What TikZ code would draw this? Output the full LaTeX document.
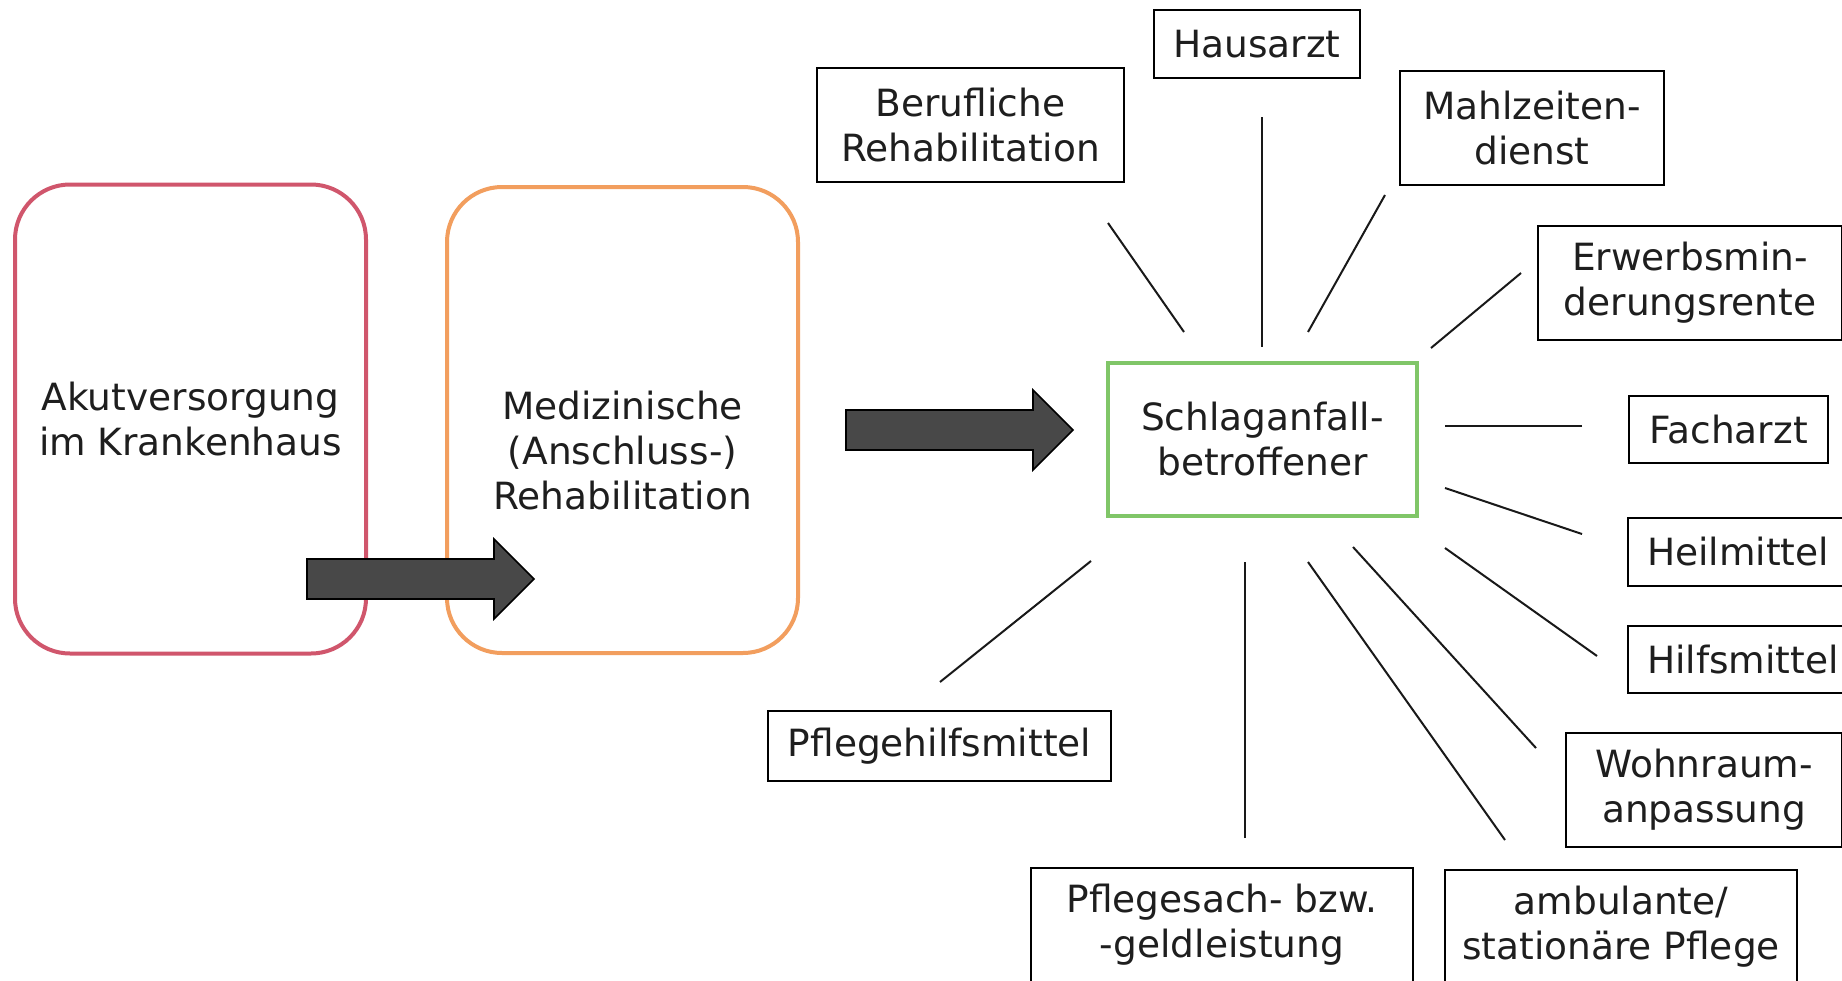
\documentclass[tikz,border=0pt]{standalone}
\usepackage{fontspec}
\setmainfont{DejaVu Sans}
\definecolor{redline}{RGB}{208,86,108}
\definecolor{orangeline}{RGB}{242,158,94}
\definecolor{greenline}{RGB}{128,198,104}
\definecolor{arrgray}{RGB}{72,72,72}
\definecolor{txt}{RGB}{30,30,30}
\tikzset{
  lbl/.style={font=\fontsize{37.5}{45}\selectfont, text=txt, align=center},
  roundbox/.style={draw, line width=4pt, rounded corners=55pt, inner sep=0pt},
  plainbox/.style={lbl, draw=black, line width=2.4pt, inner sep=0pt},
  greenbox/.style={lbl, draw=greenline, line width=4pt, inner sep=0pt},
  spoke/.style={line width=2pt, draw=black!90},
  blockarrow/.pic={\draw[fill=arrgray, draw=black, line width=1.6pt, line join=miter]
     (0,-20) -- (187,-20) -- (187,-40) -- (227,0) -- (187,40) -- (187,20) -- (0,20) -- cycle;}
}
\begin{document}
\begin{tikzpicture}[x=1pt,y=-1pt]
\useasboundingbox (0,0) rectangle (1842,980);
\clip (0,0) rectangle (1842,980);
\fill[white] (0,0) rectangle (1842,980);

% left flow
\node[roundbox, lbl, draw=redline, minimum width=351pt, minimum height=469pt] (akut) at (190.5,419) {Akutversorgung\\im Krankenhaus};
\node[roundbox, draw=orangeline, minimum width=351pt, minimum height=466pt] (reha) at (622.5,420) {};
\node[lbl] (rehatext) at (622.5,451) {Medizinische\\(Anschluss-)\\Rehabilitation};
\pic (arrA) at (307,579) {blockarrow};
\pic (arrB) at (846,430) {blockarrow};

% centre
\node[greenbox, minimum width=309pt, minimum height=153pt] (schlag) at (1262.5,439.5) {Schlaganfall-\\betroffener};

% satellite boxes
\node[plainbox, minimum width=206pt, minimum height=68pt] (haus) at (1257,44) {Hausarzt};
\node[plainbox, minimum width=307pt, minimum height=114pt] (beruf) at (970.5,125) {Berufliche\\Rehabilitation};
\node[plainbox, minimum width=264pt, minimum height=114pt] (mahl) at (1532,128) {Mahlzeiten-\\dienst};
\node[plainbox, minimum width=304pt, minimum height=114pt] (erwerb) at (1690,283) {Erwerbsmin-\\derungsrente};
\node[plainbox, minimum width=199pt, minimum height=67pt] (fach) at (1728.5,429.5) {Facharzt};
\node[plainbox, minimum width=220pt, minimum height=68pt] (heil) at (1738,552) {Heilmittel};
\node[plainbox, minimum width=230pt, minimum height=67pt] (hilf) at (1743,659.5) {Hilfsmittel};
\node[plainbox, minimum width=276pt, minimum height=114pt] (wohn) at (1704,790) {Wohnraum-\\anpassung};
\node[plainbox, minimum width=352pt, minimum height=114pt] (amb) at (1621,927) {ambulante/\\stationäre Pflege};
\node[plainbox, minimum width=382pt, minimum height=114pt] (pfsach) at (1222,925) {Pflegesach- bzw.\\-geldleistung};
\node[plainbox, minimum width=343pt, minimum height=70pt] (pfhilf) at (939.5,746) {Pflegehilfsmittel};

% spoke end points
\coordinate (b1) at (1108,223); \coordinate (b2) at (1184,332);
\coordinate (h1) at (1262,117); \coordinate (h2) at (1262,347);
\coordinate (m1) at (1385,195); \coordinate (m2) at (1308,332);
\coordinate (e1) at (1521,273); \coordinate (e2) at (1431,348);
\coordinate (f1) at (1582,426); \coordinate (f2) at (1445,426);
\coordinate (he1) at (1582,534); \coordinate (he2) at (1445,488);
\coordinate (hi1) at (1597,656); \coordinate (hi2) at (1445,548);
\coordinate (w1) at (1536,748); \coordinate (w2) at (1353,547);
\coordinate (a1) at (1505,840); \coordinate (a2) at (1308,562);
\coordinate (ps1) at (1245,838); \coordinate (ps2) at (1245,562);
\coordinate (ph1) at (940,682); \coordinate (ph2) at (1091,561);

\draw[spoke] (b1) -- (b2);
\draw[spoke] (h1) -- (h2);
\draw[spoke] (m1) -- (m2);
\draw[spoke] (e1) -- (e2);
\draw[spoke] (f1) -- (f2);
\draw[spoke] (he1) -- (he2);
\draw[spoke] (hi1) -- (hi2);
\draw[spoke] (w1) -- (w2);
\draw[spoke] (a1) -- (a2);
\draw[spoke] (ps1) -- (ps2);
\draw[spoke] (ph1) -- (ph2);
\end{tikzpicture}
\end{document}
